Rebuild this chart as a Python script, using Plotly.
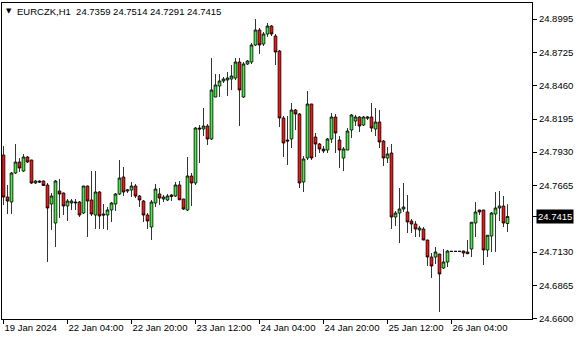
import plotly.graph_objects as go

symbol = "EURCZK,H1"

opens = [
    24.7907, 24.7571, 24.7531, 24.7763, 24.7851, 24.7779, 24.7891, 24.7867, 24.7683, 24.7699,
    24.7699, 24.7667, 24.7515, 24.7363, 24.7619, 24.7603, 24.7499, 24.7523, 24.7531, 24.7531,
    24.7443, 24.7659, 24.7547, 24.7427, 24.7611, 24.7435, 24.7427, 24.7467, 24.7515, 24.7595,
    24.7731, 24.7619, 24.7627, 24.7659, 24.7579, 24.7539, 24.7427, 24.7331, 24.7523, 24.7595,
    24.7555, 24.7547, 24.7587, 24.7579, 24.7667, 24.7555, 24.7467, 24.7739, 24.7683, 24.8123,
    24.8115, 24.8139, 24.8035, 24.8371, 24.8459, 24.8499, 24.8507, 24.8515, 24.8523, 24.8651,
    24.8371, 24.8635, 24.8651, 24.8787, 24.8907, 24.8795, 24.8875, 24.8939, 24.8859, 24.8739,
    24.8203, 24.8027, 24.8035, 24.8267, 24.8235, 24.7691, 24.7883, 24.8315, 24.8051, 24.7995,
    24.7955, 24.7947, 24.8035, 24.8211, 24.8027, 24.7883, 24.7947, 24.8107, 24.8179, 24.8211,
    24.8147, 24.8201, 24.8211, 24.8115, 24.8171, 24.8019, 24.7883, 24.7923, 24.7411, 24.7443,
    24.7475, 24.7451, 24.7379, 24.7355, 24.7307, 24.7315, 24.7227, 24.7091, 24.7091, 24.7115,
    24.7003, 24.7051, 24.7136, 24.7136, 24.7136, 24.7139, 24.7131, 24.7155, 24.7363, 24.7467,
    24.7467, 24.7147, 24.7259, 24.7435, 24.7483, 24.7499, 24.7359,
]
highs = [
    24.7979, 24.7667, 24.7771, 24.7995, 24.7883, 24.7915, 24.7899, 24.7869, 24.7707, 24.7705,
    24.7703, 24.7683, 24.7603, 24.7707, 24.7715, 24.7607, 24.7555, 24.7555, 24.7555, 24.7539,
    24.7661, 24.7663, 24.7779, 24.7779, 24.7619, 24.7515, 24.7491, 24.7531, 24.7603, 24.7867,
    24.7811, 24.7635, 24.7691, 24.7675, 24.7587, 24.7547, 24.7443, 24.7547, 24.7675, 24.7643,
    24.7587, 24.7595, 24.7595, 24.7691, 24.7699, 24.7557, 24.7891, 24.7763, 24.8131, 24.8147,
    24.8283, 24.8155, 24.8683, 24.8555, 24.8555, 24.8531, 24.8571, 24.8627, 24.8683, 24.8683,
    24.8651, 24.8667, 24.8803, 24.8995, 24.8923, 24.8891, 24.8963, 24.8947, 24.8875, 24.8747,
    24.8219, 24.8219, 24.8323, 24.8275, 24.8243, 24.7899, 24.8419, 24.8317, 24.8083, 24.8003,
    24.7979, 24.8043, 24.8243, 24.8235, 24.8059, 24.7971, 24.8123, 24.8235, 24.8227, 24.8219,
    24.8219, 24.8219, 24.8323, 24.8283, 24.8267, 24.8027, 24.7971, 24.7995, 24.7459, 24.7643,
    24.7683, 24.7587, 24.7395, 24.7379, 24.7339, 24.7331, 24.7229, 24.7123, 24.7171, 24.7117,
    24.7155, 24.7147, 24.7136, 24.7136, 24.7136, 24.7141, 24.7227, 24.7371, 24.7531, 24.7469,
    24.7469, 24.7267, 24.7451, 24.7611, 24.7619, 24.7579, 24.7514,
]
lows = [
    24.7507, 24.7435, 24.7435, 24.7755, 24.7771, 24.7771, 24.7843, 24.7675, 24.7675, 24.7683,
    24.7659, 24.7051, 24.7307, 24.7171, 24.7403, 24.7427, 24.7379, 24.7467, 24.7467, 24.7411,
    24.7435, 24.7251, 24.7419, 24.7315, 24.7315, 24.7315, 24.7307, 24.7371, 24.7459, 24.7587,
    24.7579, 24.7603, 24.7571, 24.7563, 24.7491, 24.7371, 24.7315, 24.7227, 24.7491, 24.7507,
    24.7531, 24.7539, 24.7539, 24.7571, 24.7545, 24.7467, 24.7459, 24.7499, 24.7667, 24.7843,
    24.8059, 24.7987, 24.8027, 24.8369, 24.8371, 24.8483, 24.8379, 24.8427, 24.8507, 24.8139,
    24.8363, 24.8627, 24.8635, 24.8779, 24.8715, 24.8779, 24.8851, 24.8859, 24.8627, 24.8131,
    24.7891, 24.7827, 24.7963, 24.8107, 24.7643, 24.7611, 24.7867, 24.7867, 24.7891, 24.7923,
    24.7923, 24.7923, 24.8003, 24.7923, 24.7803, 24.7779, 24.7945, 24.8043, 24.8139, 24.8091,
    24.8139, 24.8187, 24.8091, 24.8059, 24.7963, 24.7819, 24.7843, 24.7315, 24.7339, 24.7203,
    24.7451, 24.7283, 24.7283, 24.7251, 24.7251, 24.7225, 24.7019, 24.6923, 24.7035, 24.6651,
    24.6995, 24.7011, 24.7136, 24.7136, 24.7136, 24.7091, 24.7115, 24.7091, 24.7251, 24.7427,
    24.7027, 24.7091, 24.7131, 24.7131, 24.7379, 24.7331, 24.7291,
]
closes = [
    24.7571, 24.7539, 24.7763, 24.7851, 24.7803, 24.7891, 24.7851, 24.7683, 24.7699, 24.7691,
    24.7663, 24.7483, 24.7579, 24.7699, 24.7595, 24.7499, 24.7539, 24.7539, 24.7525, 24.7427,
    24.7659, 24.7539, 24.7435, 24.7611, 24.7419, 24.7427, 24.7467, 24.7523, 24.7595, 24.7723,
    24.7611, 24.7627, 24.7659, 24.7579, 24.7547, 24.7427, 24.7379, 24.7531, 24.7635, 24.7563,
    24.7571, 24.7579, 24.7575, 24.7667, 24.7549, 24.7475, 24.7739, 24.7683, 24.8123, 24.8115,
    24.8139, 24.8035, 24.8427, 24.8467, 24.8499, 24.8515, 24.8523, 24.8539, 24.8651, 24.8427,
    24.8635, 24.8659, 24.8787, 24.8907, 24.8787, 24.8875, 24.8939, 24.8875, 24.8731, 24.8203,
    24.8003, 24.8019, 24.8267, 24.8235, 24.7683, 24.7875, 24.8315, 24.7883, 24.7995, 24.7955,
    24.7939, 24.8035, 24.8211, 24.8083, 24.7947, 24.7955, 24.8099, 24.8227, 24.8211, 24.8139,
    24.8211, 24.8211, 24.8123, 24.8171, 24.8011, 24.7883, 24.7915, 24.7411, 24.7443, 24.7475,
    24.7491, 24.7371, 24.7355, 24.7315, 24.7323, 24.7227, 24.7091, 24.7019, 24.7131, 24.6955,
    24.7051, 24.7139, 24.7136, 24.7136, 24.7136, 24.7123, 24.7117, 24.7369, 24.7451, 24.7451,
    24.7147, 24.7265, 24.7443, 24.7483, 24.7499, 24.7363, 24.7415,
]

time_tick_bars = [0, 16, 32, 48, 64, 80, 96, 112]
time_tick_labels = ["19 Jan 2024", "22 Jan 04:00", "22 Jan 20:00", "23 Jan 12:00",
                    "24 Jan 04:00", "24 Jan 20:00", "25 Jan 12:00", "26 Jan 04:00"]

price_ticks = [24.8995, 24.8725, 24.8460, 24.8195, 24.7930, 24.7665, 24.7130, 24.6865, 24.6600]
price_range = [24.6595, 24.9123]
bar_range = [-0.375, 132.125]

n = len(opens)
assert len(highs) == n and len(lows) == n and len(closes) == n
bars = list(range(n))
last_price = closes[-1]

FONT = "Liberation Sans, Arial, sans-serif"
GREEN = "#40f040"
RED = "#ff1010"

fig = go.Figure(go.Candlestick(
    x=bars, open=opens, high=highs, low=lows, close=closes,
    increasing=dict(line=dict(color="black", width=0.8), fillcolor=GREEN),
    decreasing=dict(line=dict(color="black", width=0.8), fillcolor=RED),
    whiskerwidth=0,
    hoverinfo="skip",
    showlegend=False,
))

tickvals = price_ticks + [last_price]
ticktext = ["%.4f" % v for v in price_ticks] + [""]

fig.update_layout(
    width=580, height=340,
    margin=dict(l=2, r=48, t=3, b=21),
    paper_bgcolor="white", plot_bgcolor="white",
    font=dict(family=FONT, size=9.5, color="black"),
    showlegend=False,
    boxgap=0.32, boxgroupgap=0,
    xaxis=dict(
        range=bar_range, tickmode="array", tickvals=time_tick_bars, ticktext=time_tick_labels,
        ticks="outside", ticklen=4, tickcolor="black", tickwidth=1,
        ticklabelposition="outside right",
        showline=True, mirror=True, linecolor="black", linewidth=1,
        showgrid=False, zeroline=False, rangeslider=dict(visible=False),
        tickfont=dict(family=FONT, size=9.5, color="black"),
        fixedrange=True,
    ),
    yaxis=dict(
        side="right", range=price_range, tickmode="array", tickvals=tickvals, ticktext=ticktext,
        ticks="outside", ticklen=4, tickcolor="black", tickwidth=1,
        showline=True, mirror=True, linecolor="black", linewidth=1,
        showgrid=False, zeroline=False,
        tickfont=dict(family=FONT, size=9.5, color="black"),
        fixedrange=True,
    ),
)

fig.add_annotation(
    xref="paper", yref="paper", x=0, y=1, xanchor="left", yanchor="top",
    xshift=2, yshift=-2, showarrow=False, text="▼",
    font=dict(family="DejaVu Sans", size=7, color="black"),
)
fig.add_annotation(
    xref="paper", yref="paper", x=0, y=1, xanchor="left", yanchor="top",
    xshift=13, yshift=-1, showarrow=False,
    text="%s  %.4f %.4f %.4f %.4f" % (symbol, opens[-1], highs[-1], lows[-1], closes[-1]),
    font=dict(family=FONT, size=9.5, color="black"),
)
fig.add_annotation(
    xref="paper", yref="y", x=1, y=last_price, xanchor="left", yanchor="middle",
    xshift=4, showarrow=False, text="%.4f" % last_price,
    bgcolor="black", borderpad=1,
    font=dict(family=FONT, size=9.5, color="white"),
)

fig.write_html("out.html")
